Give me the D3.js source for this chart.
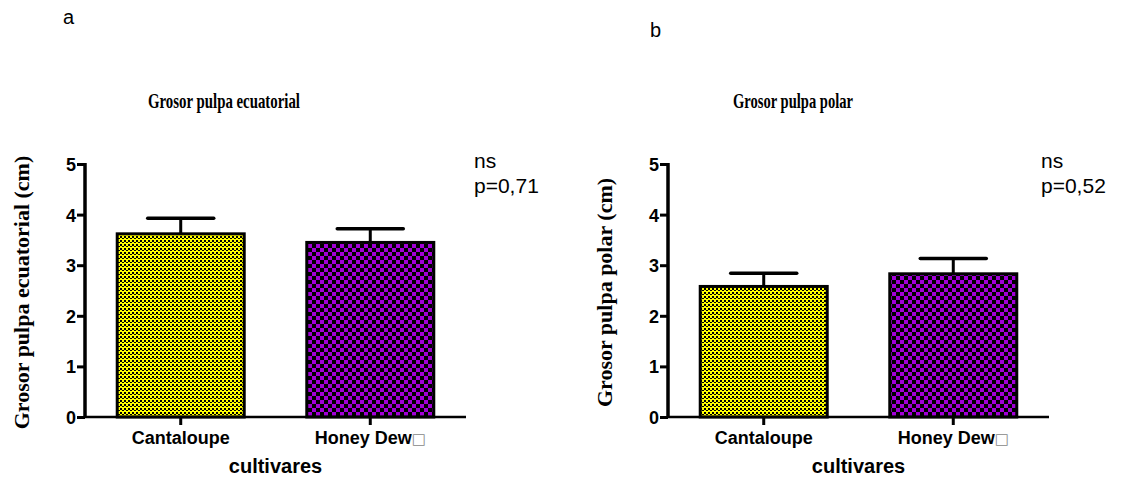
<!DOCTYPE html>
<html>
<head>
<meta charset="utf-8">
<script src="https://cdn.jsdelivr.net/npm/d3@7"></script>
<style>
  html, body { margin: 0; padding: 0; background: #fff; }
  svg { display: block; }
</style>
</head>
<body>
<svg id="chart" width="1129" height="478"></svg>
<script>
// ---- data ----
const categories = ["Cantaloupe", "Honey Dew"];
const yTicks = [0, 1, 2, 3, 4, 5];
const ecuatorialMeans = [3.62, 3.45];
const ecuatorialErrors = [0.31, 0.27];
const polarMeans = [2.58, 2.83];
const polarErrors = [0.26, 0.30];
const panelLetters = ["a", "b"];
const panelTitles = ["Grosor pulpa ecuatorial", "Grosor pulpa polar"];
const yTitles = ["Grosor pulpa ecuatorial (cm)", "Grosor pulpa polar (cm)"];
const pValues = ["p=0,71", "p=0,52"];
const sigLabel = "ns";
const xTitle = "cultivares";

const svg = d3.select("#chart");
const defs = svg.append("defs");

// yellow fine checker
const py = defs.append("pattern").attr("id", "patYellow")
  .attr("patternUnits", "userSpaceOnUse").attr("width", 4).attr("height", 4);
py.append("rect").attr("width", 4).attr("height", 4).attr("fill", "#ffff00");
py.append("rect").attr("x", 0).attr("y", 0).attr("width", 2).attr("height", 2).attr("fill", "#000");
py.append("rect").attr("x", 2).attr("y", 2).attr("width", 2).attr("height", 1).attr("fill", "#000");

// purple coarse checker
const pp = defs.append("pattern").attr("id", "patPurple")
  .attr("patternUnits", "userSpaceOnUse").attr("width", 8).attr("height", 8);
pp.append("rect").attr("width", 8).attr("height", 8).attr("fill", "#000");
pp.append("rect").attr("x", 0).attr("y", 0).attr("width", 4).attr("height", 4).attr("fill", "#a100d8");
pp.append("rect").attr("x", 4).attr("y", 4).attr("width", 4).attr("height", 4).attr("fill", "#a100d8");

const fills = ["url(#patYellow)", "url(#patPurple)"];

const panels = [
  { x0: 85, x1: 466, means: ecuatorialMeans, errs: ecuatorialErrors, letterX: 63, letterY: 24, titleX: 224, titleW: 152, yTitleX: 29, pX: 474 },
  { x0: 668, x1: 1049, means: polarMeans, errs: polarErrors, letterX: 650, letterY: 37, titleX: 793, titleW: 120, yTitleX: 612, pX: 1041 }
];

const yTop = 164, yBottom = 417;
const sans = "Liberation Sans, Arial, sans-serif";
const serif = "Liberation Serif, Times New Roman, serif";

panels.forEach((p, i) => {
  const g = svg.append("g");
  const x = d3.scaleBand().domain(categories).range([p.x0, p.x1])
    .paddingInner(0.33).paddingOuter(0.17);
  const y = d3.scaleLinear().domain([0, 5]).range([yBottom, yTop]);

  // bars
  g.selectAll("rect.bar").data(categories).join("rect")
    .attr("class", "bar")
    .attr("x", d => x(d))
    .attr("y", (d, j) => y(p.means[j]))
    .attr("width", x.bandwidth())
    .attr("height", (d, j) => y(0) - y(p.means[j]))
    .attr("fill", (d, j) => fills[j])
    .attr("stroke", "#000").attr("stroke-width", 3);

  // error bars
  const capHalf = x.bandwidth() * 0.26;
  categories.forEach((c, j) => {
    const cx = x(c) + x.bandwidth() / 2;
    g.append("line").attr("x1", cx).attr("x2", cx)
      .attr("y1", y(p.means[j])).attr("y2", y(p.means[j] + p.errs[j]))
      .attr("stroke", "#000").attr("stroke-width", 3);
    g.append("line").attr("x1", cx - capHalf).attr("x2", cx + capHalf)
      .attr("y1", y(p.means[j] + p.errs[j])).attr("y2", y(p.means[j] + p.errs[j]))
      .attr("stroke", "#000").attr("stroke-width", 3.5).attr("stroke-linecap", "round");
  });

  // y axis
  const ya = g.append("g").attr("transform", `translate(${p.x0},0)`)
    .call(d3.axisLeft(y).tickValues(yTicks).tickFormat(d3.format("d"))
      .tickSize(8).tickSizeOuter(0).tickPadding(1));
  ya.select(".domain").attr("stroke-width", 3.5).attr("d", `M0,${yTop - 1}V${yBottom}`);
  ya.selectAll(".tick line").attr("stroke-width", 3);
  ya.selectAll(".tick text").attr("font-family", sans)
    .attr("font-weight", "bold").attr("font-size", 18).attr("fill", "#000").attr("dy", "0.36em");

  // x axis
  const xa = g.append("g").attr("transform", `translate(0,${yBottom})`)
    .call(d3.axisBottom(x).tickSize(8).tickSizeOuter(0).tickPadding(6));
  xa.select(".domain").attr("stroke-width", 2.5).attr("d", `M${p.x0},0H${p.x1}`);
  xa.selectAll(".tick line").attr("stroke-width", 3);
  xa.selectAll(".tick text").attr("font-family", sans)
    .attr("font-weight", "bold").attr("font-size", 18).attr("fill", "#000");
  // the missing-glyph box after "Honey Dew"
  xa.selectAll(".tick text").filter(d => d === "Honey Dew")
    .append("tspan").text("\u25A1").attr("font-weight", "normal")
    .attr("font-family", "DejaVu Sans, sans-serif").attr("font-size", 15).attr("fill", "#888");

  // x title
  g.append("text").attr("x", (p.x0 + p.x1) / 2).attr("y", 473)
    .attr("text-anchor", "middle")
    .attr("font-family", sans)
    .attr("font-weight", "bold").attr("font-size", 20).text(xTitle);

  // y title
  g.append("text")
    .attr("transform", `translate(${p.yTitleX},${(yTop + yBottom) / 2 + 2}) rotate(-90)`)
    .attr("text-anchor", "middle")
    .attr("font-family", serif)
    .attr("font-weight", "bold").attr("font-size", 22).text(yTitles[i]);

  // panel title (condensed, as in the reference)
  g.append("text").attr("x", p.titleX).attr("y", 108)
    .attr("text-anchor", "middle")
    .attr("font-family", serif)
    .attr("font-weight", "bold").attr("font-size", 21)
    .attr("textLength", p.titleW).attr("lengthAdjust", "spacingAndGlyphs")
    .text(panelTitles[i]);

  // letter
  g.append("text").attr("x", p.letterX).attr("y", p.letterY)
    .attr("font-family", sans)
    .attr("font-size", 20).text(panelLetters[i]);

  // significance
  g.append("text").attr("x", p.pX).attr("y", 168)
    .attr("font-family", sans)
    .attr("font-size", 21).text(sigLabel);
  g.append("text").attr("x", p.pX).attr("y", 193)
    .attr("font-family", sans)
    .attr("font-size", 21).text(pValues[i]);
});
</script>
</body>
</html>
